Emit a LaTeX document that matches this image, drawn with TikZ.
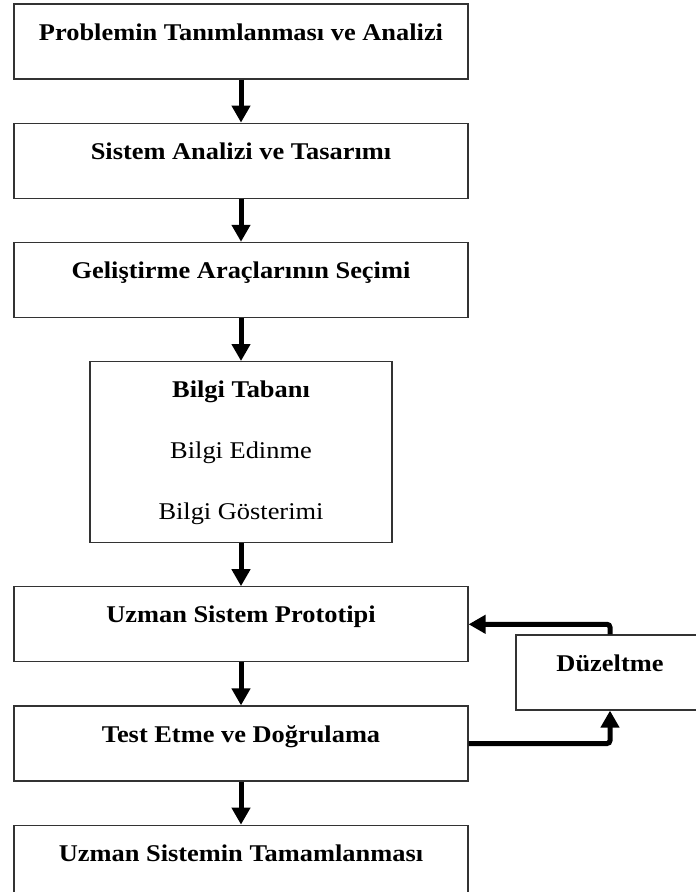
\documentclass[tikz,border=0pt]{standalone}
\usepackage{fontspec}
\setmainfont{Liberation Serif}[FakeStretch=1.1]
\usepackage{tikz}
\usetikzlibrary{positioning}
\usetikzlibrary{arrows.meta}

\begin{document}
\begin{tikzpicture}[x=1pt,y=1pt,>={Triangle[length=17pt,width=18pt]},node distance=43pt,
  phase/.style={rectangle,draw=black!80,line width=1.2pt,minimum width=454pt,inner sep=0pt,text height=36pt,text depth=39pt,font=\fontsize{24}{29}\selectfont\bfseries},
  flow/.style={->,line width=5pt}]

  \useasboundingbox (0,0) rectangle (696,-892);

  \node[phase] (tanim) at (241,-41.5) {Problemin Tanımlanması ve Analizi};
  \node[phase] (analiz) [below=of tanim] {Sistem Analizi ve Tasarımı};
  \node[phase] (arac) [below=of analiz] {Geliştirme Araçlarının Seçimi};
  \node[phase,minimum width=302pt,text height=158pt,text depth=23pt,align=center,font=\fontsize{24}{61}\selectfont] (bilgi) [below=of arac] {\textbf{Bilgi Tabanı}\\Bilgi Edinme\\Bilgi Gösterimi};
  \node[phase] (proto) [below=of bilgi] {Uzman Sistem Prototipi};
  \node[phase] (test) [below=of proto] {Test Etme ve Doğrulama};
  \node[phase,text depth=44pt] (son) [below=of test] {Uzman Sistemin Tamamlanması};
  \node[phase,minimum width=188pt] (duzelt) at (610,-672.5) {Düzeltme};

  \path[flow]
    (tanim) edge (analiz)
    (analiz) edge (arac)
    (arac) edge (bilgi)
    (bilgi) edge (proto)
    (proto) edge (test)
    (test) edge (son);

  % geri besleme
  \draw[flow,rounded corners=3pt] (test.east) -| (duzelt.south);
  \draw[flow,rounded corners=3pt] (duzelt.north) |- (proto.east);

\end{tikzpicture}
\end{document}
